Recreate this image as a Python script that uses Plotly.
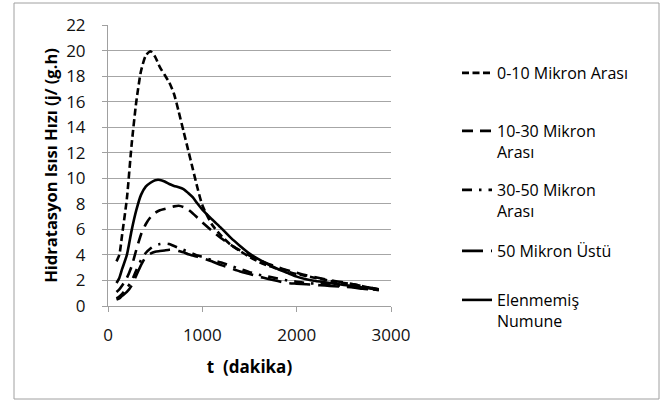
import plotly.graph_objects as go

t = [90, 120, 150, 200, 250, 300, 350, 400, 450, 500, 550, 600, 650, 700, 750, 800,
     850, 900, 950, 1000, 1100, 1200, 1300, 1400, 1500, 1600, 1700, 1800, 1900, 2000,
     2100, 2200, 2300, 2400, 2500, 2600, 2700, 2800, 2870]

s_0_10 = [3.5, 4.0, 5.6, 8.4, 12.6, 16.0, 18.4, 19.6, 19.95, 19.5, 18.7, 18.1, 17.5, 16.6, 15.2, 13.7,
          12.2, 10.7, 9.2, 7.9, 6.4, 5.5, 4.8, 4.3, 3.85, 3.45, 3.15, 2.9, 2.7, 2.5,
          2.35, 2.2, 2.05, 1.9, 1.8, 1.7, 1.55, 1.4, 1.3]
s_10_30 = [1.1, 1.3, 1.6, 2.2, 3.1, 4.4, 5.6, 6.4, 6.95, 7.3, 7.5, 7.6, 7.7, 7.8, 7.85, 7.75,
           7.55, 7.25, 6.9, 6.55, 5.9, 5.3, 4.8, 4.35, 3.95, 3.6, 3.3, 3.05, 2.8, 2.6,
           2.4, 2.25, 2.1, 1.95, 1.85, 1.7, 1.55, 1.4, 1.3]
s_30_50 = [0.6, 0.75, 0.95, 1.4, 1.95, 2.8, 3.6, 4.15, 4.5, 4.75, 4.85, 4.9, 4.85, 4.7, 4.55, 4.4,
           4.25, 4.1, 3.95, 3.85, 3.6, 3.4, 3.15, 2.9, 2.65, 2.45, 2.3, 2.15, 2.0, 1.9,
           1.8, 1.75, 1.7, 1.65, 1.55, 1.5, 1.4, 1.3, 1.25]
s_50 = [0.5, 0.6, 0.8, 1.1, 1.6, 2.4, 3.2, 3.85, 4.1, 4.25, 4.3, 4.35, 4.4, 4.4, 4.3, 4.2,
        4.05, 3.95, 3.85, 3.75, 3.5, 3.2, 2.95, 2.7, 2.5, 2.3, 2.12, 1.95, 1.8, 1.75,
        1.7, 1.65, 1.6, 1.55, 1.5, 1.45, 1.35, 1.3, 1.25]
s_elen = [1.8, 2.2, 2.9, 4.0, 5.9, 7.5, 8.7, 9.35, 9.65, 9.85, 9.87, 9.75, 9.55, 9.4, 9.3, 9.15,
          8.85, 8.5, 8.0, 7.55, 6.8, 6.1, 5.35, 4.7, 4.1, 3.65, 3.25, 2.9, 2.6, 2.3,
          2.1, 1.95, 1.85, 1.75, 1.65, 1.55, 1.45, 1.35, 1.25]

names = ["0-10 Mikron Arası", "10-30 Mikron<br>Arası", "30-50 Mikron<br>Arası",
         "50 Mikron Üstü", "Elenmemiş<br>Numune"]
series = [s_0_10, s_10_30, s_30_50, s_50, s_elen]
dashes = ["7px,3.5px", "11px,7px", "10px,7px,2.5px,7px", "21px,8px", "solid"]
legend_ids = ["legend", "legend2", "legend3", "legend4", "legend5"]
legend_px = [72, 130, 189, 250, 299]

FONT = "Open Sans"
W, H = 668, 401
L, R, T, B = 108, 277, 25, 95
ph = H - T - B

fig = go.Figure()
for name, ys, d, lg in zip(names, series, dashes, legend_ids):
    fig.add_trace(go.Scatter(x=t, y=ys, mode="lines", name=name, legend=lg,
                             line=dict(color="black", width=2.6, dash=d, shape="spline", smoothing=0.6)))

layout_legends = {}
for lg, py in zip(legend_ids, legend_px):
    layout_legends[lg] = dict(
        x=(457 - L) / (W - L - R), xanchor="left",
        y=(H - B - (py - 16)) / ph, yanchor="top",
        bgcolor="rgba(0,0,0,0)", borderwidth=0, valign="top",
        font=dict(family=FONT, size=16, color="#000"),
    )

fig.update_layout(
    width=W, height=H,
    margin=dict(l=L, r=R, t=T, b=B),
    paper_bgcolor="white", plot_bgcolor="white",
    font=dict(family=FONT, color="#000"),
    showlegend=True,
    **layout_legends,
    xaxis=dict(range=[0, 3000], tickvals=[0, 1000, 2000, 3000], showgrid=False,
               showline=True, linecolor="#a0a0a0", linewidth=1,
               ticks="outside", ticklen=5, tickcolor="#a0a0a0",
               tickfont=dict(family=FONT, size=17, color="#111"), ticklabelstandoff=9,
               title=dict(text="<b>t  (dakika)</b>", font=dict(family=FONT, size=17, color="#000"),
                          standoff=15),
               zeroline=False),
    yaxis=dict(range=[0, 22], dtick=2, showgrid=True, gridcolor="#a6a6a6", gridwidth=1,
               showline=True, linecolor="#a0a0a0", linewidth=1,
               ticks="outside", ticklen=5, tickcolor="#a0a0a0",
               tickfont=dict(family=FONT, size=17, color="#111"), ticklabelstandoff=13,
               title=dict(text="<b>Hidratasyon Isısı Hızı (j/ (g.h)</b>",
                          font=dict(family=FONT, size=16.5, color="#000"), standoff=4),
               zeroline=False),
)

fig.add_shape(type="rect", xref="paper", yref="paper",
              x0=(14 - L) / (W - L - R), x1=(659 - L) / (W - L - R),
              y0=(H - B - 399) / ph, y1=(H - B - 3) / ph,
              line=dict(color="#a0a0a0", width=1), fillcolor="rgba(0,0,0,0)", layer="below")

fig.write_html("out.html")
